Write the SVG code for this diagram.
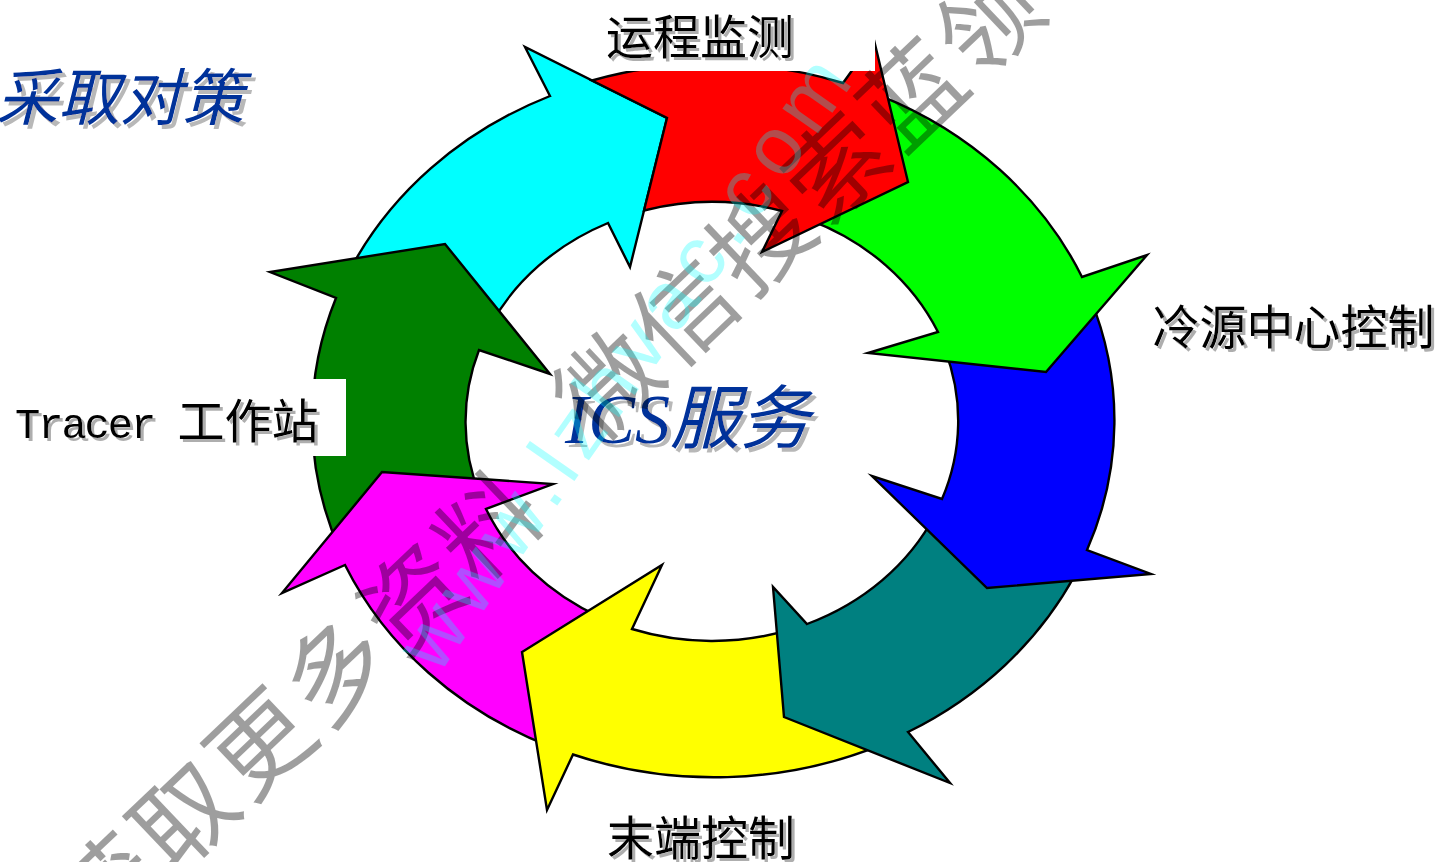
<svg xmlns="http://www.w3.org/2000/svg" width="1443" height="862" viewBox="0 0 1443 862">
<style>
.arrow{stroke:#000;stroke-width:2.4;stroke-linejoin:miter;stroke-miterlimit:10}
.lbl{font-family:"Noto Sans CJK SC","Noto Sans CJK TC",sans-serif;font-size:47px;fill:#000;filter:url(#sh)}
.title{font-family:"Liberation Serif","Noto Sans CJK SC",serif;font-style:italic;fill:#00309A;filter:url(#sh2)}
.box{fill:#fff}
.wm{font-family:"Noto Sans CJK SC",sans-serif;fill:#000;fill-opacity:0.38}
.wm2{font-family:"Liberation Sans",sans-serif;fill:#00FFFF;fill-opacity:0.3}
</style>
<defs>
<filter id="sh" x="-5%" y="-20%" width="115%" height="150%">
<feDropShadow dx="3" dy="3" stdDeviation="0.6" flood-color="#9a9a9a" flood-opacity="0.8"/>
</filter>
<filter id="sh2" x="-5%" y="-20%" width="115%" height="150%">
<feDropShadow dx="4" dy="4" stdDeviation="0.6" flood-color="#b0b0b0" flood-opacity="0.9"/>
</filter>
</defs>
<rect width="1443" height="862" fill="#fff"/>

<g id="cycle">
<g id="arrow-cyan"><path class="arrow" fill="#00FFFF" d="M348,273.7 A401,357 0 0 1 550,96 L525,47 L667,118 L630,267 L608,223 A246.5,219.5 0 0 0 490,326 Z"/></g>
<g id="arrow-darkgreen"><path class="arrow" fill="#008000" d="M340,550.4 A401,357 0 0 1 336,298 L270,272 L445,244 L550,374 L479,350 A246.5,219.5 0 0 0 480,495.7 Z"/></g>
<g id="arrow-magenta"><path class="arrow" fill="#FF00FF" d="M550,746.5 A401,357 0 0 1 345,565 L282,593 L382,472 L553,484 L486,509 A246.5,219.5 0 0 0 600,617 Z"/></g>
<g id="arrow-yellow"><path class="arrow" fill="#FFFF00" d="M880,745.3 A401,357 0 0 1 573,754.5 L547,810 L522,652 L662,565 L632,629 A246.5,219.5 0 0 0 790,629.7 Z"/></g>
<g id="arrow-teal"><path class="arrow" fill="#008080" d="M1075,575 A401,357 0 0 1 908,732 L950,783 L784,717 L773,587 L807,624 A246.5,219.5 0 0 0 935,515 Z"/></g>
<g id="arrow-blue"><path class="arrow" fill="#0000FF" d="M1090,297.6 A401,357 0 0 1 1087,550 L1151,574 L987,588 L872,476 L942,499 A246.5,219.5 0 0 0 945,349.9 Z"/></g>
<g id="arrow-green"><path class="arrow" fill="#00FF00" d="M880,95.7 A401,357 0 0 1 1082,277 L1147,255 L1046,372 L868,353 L938,332 A246.5,219.5 0 0 0 810,220.1 Z"/></g>
<g id="arrow-red"><path class="arrow" fill="#FF0000" d="M592,80.5 A401,357 0 0 1 843,83 L874,40 L908,182 L762,252 L782,211 A246.5,219.5 0 0 0 644,210.5 L667,118 Z"/></g>
</g>

<g id="title">
<text class="title" x="-4" y="120" font-size="62">采取对策</text>
</g>
<g id="label-top">
<rect class="box" x="590" y="0" width="285" height="71"/>
<text class="lbl" x="700" y="54" font-size="46" text-anchor="middle">运程监测</text>
</g>
<g id="label-right">
<text class="lbl" x="1293.5" y="344" text-anchor="middle">冷源中心控制</text>
</g>
<g id="label-bottom">
<text class="lbl" x="701" y="855" text-anchor="middle">末端控制</text>
</g>
<g id="label-left">
<rect class="box" x="5" y="379" width="341" height="77"/>
<text class="lbl" x="15" y="438"><tspan font-family="Liberation Mono" font-size="42" letter-spacing="-2">Tracer </tspan>工作站</text>
</g>
<g id="center">
<text class="title" x="565" y="443" font-size="70">ICS服务</text>
</g>

<g id="watermark">
<text class="wm" transform="translate(97,949.5) rotate(-43.6)" font-size="100" letter-spacing="5">获取更多资料<tspan dx="80" dy="-20">微信搜索蓝领</tspan></text>
<text class="wm2" transform="translate(438,676) rotate(-55)" font-size="82" textLength="725" lengthAdjust="spacing">www.lzhvac.com</text>
</g>
</svg>
